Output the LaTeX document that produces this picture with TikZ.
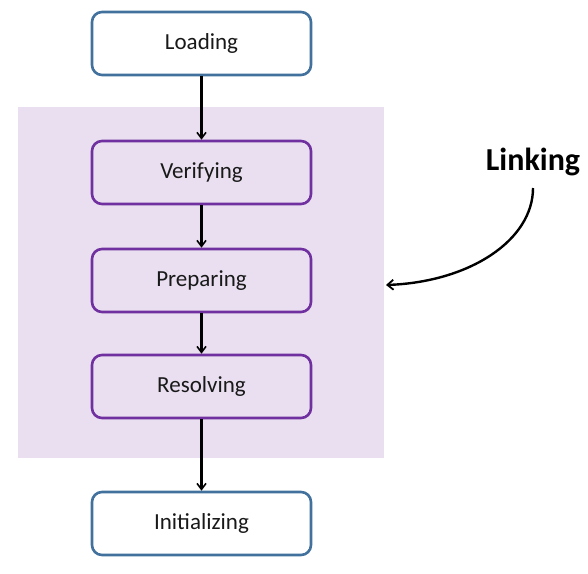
\documentclass[tikz,border=0pt]{standalone}
\usepackage{fontspec}
\setmainfont{Carlito}
\usetikzlibrary{arrows.meta}
\definecolor{bluebd}{HTML}{41719C}
\definecolor{purplebd}{HTML}{7030A0}
\definecolor{linkbg}{HTML}{E9DFF0}
\begin{document}
\begin{tikzpicture}[x=1pt,y=-1pt,
  box/.style={draw, line width=2.6pt, rounded corners=10pt, minimum width=219pt, minimum height=63pt, inner sep=0pt, font=\fontsize{23}{27}\selectfont, text=black!90},
  outer/.style={box, draw=bluebd, fill=white},
  inner/.style={box, draw=purplebd, fill=linkbg},
  conn/.style={line width=2.2pt, -{Straight Barb[length=6pt,width=9pt,line width=1.6pt]}}]
\useasboundingbox (0,0) rectangle (588,573);
\fill[linkbg] (18,107) rectangle (384,458);
\node[outer] (load) at (201.5,43.5) {Loading};
\node[inner] (ver) at (201.5,172.5) {Verifying};
\node[inner] (prep) at (201.5,280.5) {Preparing};
\node[inner] (res) at (201.5,386.5) {Resolving};
\node[outer] (init) at (201.5,523.5) {Initializing};
\draw[conn] (load) -- (ver);
\draw[conn] (ver) -- (prep);
\draw[conn] (prep) -- (res);
\draw[conn] (res) -- (init);
\node[font=\fontsize{32}{36}\selectfont\bfseries, anchor=center] (link) at (533,162) {Linking};
\coordinate (tgt) at (386,285);
\draw[line width=2.4pt, -{Straight Barb[length=6pt,width=10pt,line width=1.8pt]}] (533,188) .. controls (533,240) and (470,282) .. (tgt);
\end{tikzpicture}
\end{document}
